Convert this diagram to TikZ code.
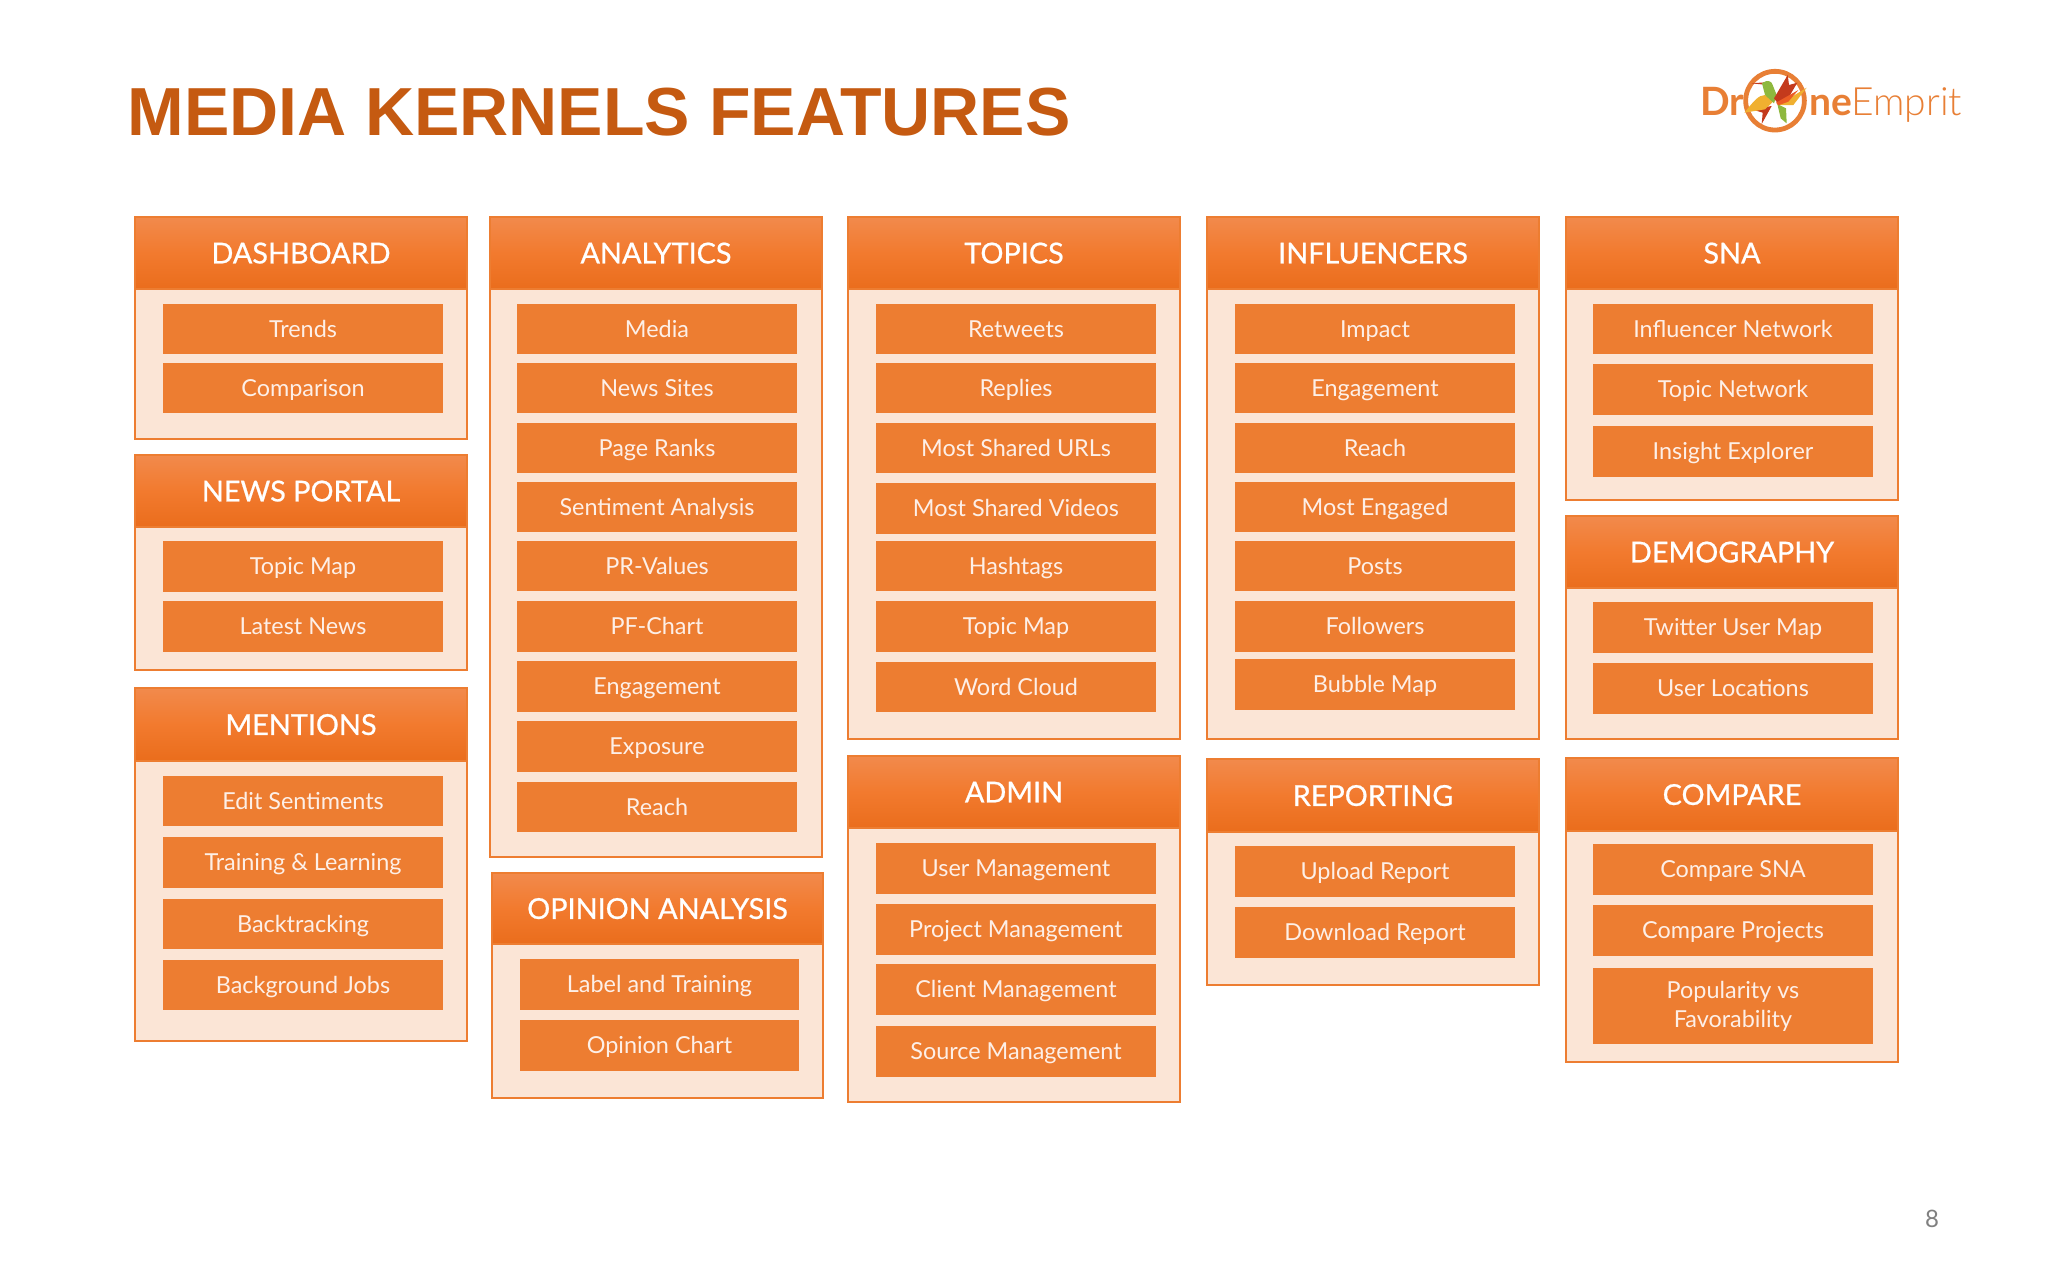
\documentclass[tikz,border=0pt]{standalone}
\usepackage{fontspec}
\setmainfont{Lato}
\newfontfamily\titlefont{Liberation Sans}
\newfontfamily\logolight{Lato Light}
\newfontfamily\headfont[FakeBold=0.7]{Lato}
\definecolor{ttl}{HTML}{C55A11}
\definecolor{org}{HTML}{ED7D31}
\definecolor{pale}{HTML}{FBE5D6}
\definecolor{htop}{HTML}{F28A4C}
\definecolor{hmid}{HTML}{F27A2E}
\definecolor{hbot}{HTML}{EA6D1C}
\definecolor{logoc}{HTML}{E87F35}
\definecolor{bdred}{HTML}{C43A1C}
\definecolor{bdyel}{HTML}{F0B030}
\definecolor{bdgrn}{HTML}{8EB83E}
\definecolor{bdorg}{HTML}{EC5C24}
\tikzset{
  panelbody/.style={draw=org,line width=1.3pt,fill=pale,anchor=north west,inner sep=0pt,outer sep=0pt},
  panelhead/.style={draw=org,line width=0.6pt,top color=htop,bottom color=hbot,middle color=hmid,anchor=north west,inner sep=0pt,outer sep=0pt,text=white,text height=10.4pt,text depth=0pt,font=\headfont\fontsize{14.4}{18}\selectfont},
  itembox/.style={fill=org,anchor=north west,inner sep=0pt,outer sep=0pt,text=pale!60!white,align=center,font=\fontsize{11.7}{11}\selectfont},
  oneline/.style={text height=8.4pt,text depth=0pt},
  logotext/.style={anchor=base west,inner sep=0pt,text=logoc,font=\bfseries\fontsize{19.5}{20}\selectfont},
}
\newcommand{\panelhd}[6]{% id x1 x2 y1 hb y2 (title set separately)
  \pgfmathsetmacro{\wid}{(#3-#2)*0.5}%
  \pgfmathsetmacro{\hb}{(#6-#4)*0.5}%
  \pgfmathsetmacro{\hh}{(#5-#4)*0.5}%
  \node[panelbody,minimum width=\wid pt,minimum height=\hb pt] (#1b) at (#2,#4) {};
  \node[panelhead,minimum width=\wid pt,minimum height=\hh pt] (#1) at (#2,#4) {\paneltitle};
}
\newcommand{\itm}[6]{% id x1 x2 y1 y2 text
  \pgfmathsetmacro{\wid}{(#3-#2)*0.5}%
  \pgfmathsetmacro{\hh}{(#5-#4)*0.5}%
  \node[itembox,oneline,minimum width=\wid pt,minimum height=\hh pt] (#1) at (#2,#4) {#6};
}
\newcommand{\paneltitle}{}
\begin{document}
\begin{tikzpicture}[x=0.5pt,y=-0.5pt]
\useasboundingbox (0,0) rectangle (2048,1280);
\fill[white] (0,0) rectangle (2048,1280);
\node[anchor=base west,inner sep=0pt,text=ttl,font=\titlefont\bfseries\fontsize{34}{40}\selectfont] (title) at (127,135) {MEDIA KERNELS FEATURES};
\node[text=black!50,inner sep=0pt,font=\fontsize{12}{14}\selectfont] (pagenum) at (1932,1219) {8};

% logo
\begin{scope}[shift={(1650,40)},x=0.16667pt,y=-0.16667pt]
  \draw[draw=logoc,line width=2.4pt] (375,182) circle (88);
  \fill[bdred] (303,130) -- (345,127) -- (345,134) -- cycle;
  \fill[bdred] (305,208) -- (365,198) -- (335,252) -- (338,218) -- cycle;
  \fill[bdyel] (283,218) .. controls (310,185) and (325,165) .. (345,165) -- (372,182) -- (345,208) -- cycle;
  \fill[bdgrn] (336,130) .. controls (350,118) and (365,122) .. (368,135) -- (380,165) -- (372,190) -- (345,165) -- cycle;
  \fill[bdgrn] (382,192) -- (408,205) -- (410,250) -- (392,235) -- cycle;
  \fill[bdred] (372,175) -- (413,105) -- (417,135) -- (442,128) -- (420,165) -- (385,192) -- cycle;
  \fill[bdyel] (385,195) -- (470,143) -- (430,195) -- cycle;
  \fill[bdorg] (378,188) -- (445,150) -- (415,185) -- (385,196) -- cycle;
\end{scope}
\node[logotext] (logoa) at (1700,115) {Dr};
\node[logotext] (logob) at (1809,115) {ne};
\node[logotext,font=\logolight\fontsize{19.5}{20}\selectfont] (logoe) at (1851,115) {Emprit};

% column 1
\renewcommand{\paneltitle}{DASHBOARD}\panelhd{pa}{135}{467}{217}{289}{439}
\itm{a1}{163}{443}{304}{354}{Trends}
\itm{a2}{163}{443}{363}{413}{Comparison}
\renewcommand{\paneltitle}{NEWS PORTAL}\panelhd{pb}{135}{467}{455}{527}{670}
\itm{b1}{163}{443}{541}{592}{Topic Map}
\itm{b2}{163}{443}{601}{652}{Latest News}
\renewcommand{\paneltitle}{MENTIONS}\panelhd{pc}{135}{467}{688}{761}{1041}
\itm{c1}{163}{443}{776}{826}{Edit Sentiments}
\itm{c2}{163}{443}{837}{888}{Training \& Learning}
\itm{c3}{163}{443}{899}{949}{Backtracking}
\itm{c4}{163}{443}{960}{1010}{Background Jobs}
% column 2
\renewcommand{\paneltitle}{ANALYTICS}\panelhd{pd}{490}{822}{217}{289}{857}
\itm{d1}{517}{797}{304}{354}{Media}
\itm{d2}{517}{797}{363}{413}{News Sites}
\itm{d3}{517}{797}{423}{473}{Page Ranks}
\itm{d4}{517}{797}{482}{532}{Sentiment Analysis}
\itm{d5}{517}{797}{541}{591}{PR-Values}
\itm{d6}{517}{797}{601}{652}{PF-Chart}
\itm{d7}{517}{797}{661}{712}{Engagement}
\itm{d8}{517}{797}{721}{772}{Exposure}
\itm{d9}{517}{797}{782}{832}{Reach}
\renewcommand{\paneltitle}{OPINION ANALYSIS}\panelhd{pe}{492}{823}{873}{944}{1098}
\itm{e1}{520}{799}{959}{1010}{Label and Training}
\itm{e2}{520}{799}{1020}{1071}{Opinion Chart}
% column 3
\renewcommand{\paneltitle}{TOPICS}\panelhd{pf}{848}{1180}{217}{289}{739}
\itm{f1}{876}{1156}{304}{354}{Retweets}
\itm{f2}{876}{1156}{363}{413}{Replies}
\itm{f3}{876}{1156}{423}{473}{Most Shared URLs}
\itm{f4}{876}{1156}{483}{534}{Most Shared Videos}
\itm{f5}{876}{1156}{541}{591}{Hashtags}
\itm{f6}{876}{1156}{601}{652}{Topic Map}
\itm{f7}{876}{1156}{662}{712}{Word Cloud}
\renewcommand{\paneltitle}{ADMIN}\panelhd{pg}{848}{1180}{756}{828}{1102}
\itm{g1}{876}{1156}{843}{894}{User Management}
\itm{g2}{876}{1156}{904}{955}{Project Management}
\itm{g3}{876}{1156}{964}{1015}{Client Management}
\itm{g4}{876}{1156}{1026}{1077}{Source Management}
% column 4
\renewcommand{\paneltitle}{INFLUENCERS}\panelhd{ph}{1207}{1539}{217}{289}{739}
\itm{h1}{1235}{1515}{304}{354}{Impact}
\itm{h2}{1235}{1515}{363}{413}{Engagement}
\itm{h3}{1235}{1515}{423}{473}{Reach}
\itm{h4}{1235}{1515}{482}{532}{Most Engaged}
\itm{h5}{1235}{1515}{541}{591}{Posts}
\itm{h6}{1235}{1515}{601}{652}{Followers}
\itm{h7}{1235}{1515}{659}{710}{Bubble Map}
\renewcommand{\paneltitle}{REPORTING}\panelhd{pi}{1207}{1539}{759}{832}{985}
\itm{i1}{1235}{1515}{846}{897}{Upload Report}
\itm{i2}{1235}{1515}{907}{958}{Download Report}
% column 5
\renewcommand{\paneltitle}{SNA}\panelhd{pj}{1566}{1898}{217}{289}{500}
\itm{j1}{1593}{1873}{304}{354}{Influencer Network}
\itm{j2}{1593}{1873}{364}{415}{Topic Network}
\itm{j3}{1593}{1873}{426}{477}{Insight Explorer}
\renewcommand{\paneltitle}{DEMOGRAPHY}\panelhd{pk}{1566}{1898}{516}{588}{739}
\itm{k1}{1593}{1873}{602}{653}{Twitter User Map}
\itm{k2}{1593}{1873}{663}{714}{User Locations}
\renewcommand{\paneltitle}{COMPARE}\panelhd{pl}{1566}{1898}{758}{831}{1062}
\itm{l1}{1593}{1873}{844}{895}{Compare SNA}
\itm{l2}{1593}{1873}{905}{956}{Compare Projects}
\node[itembox,minimum width=140pt,minimum height=38pt,font=\fontsize{11.7}{14.5}\selectfont] (l3) at (1593,968) {Popularity vs\\Favorability};
\end{tikzpicture}
\end{document}
